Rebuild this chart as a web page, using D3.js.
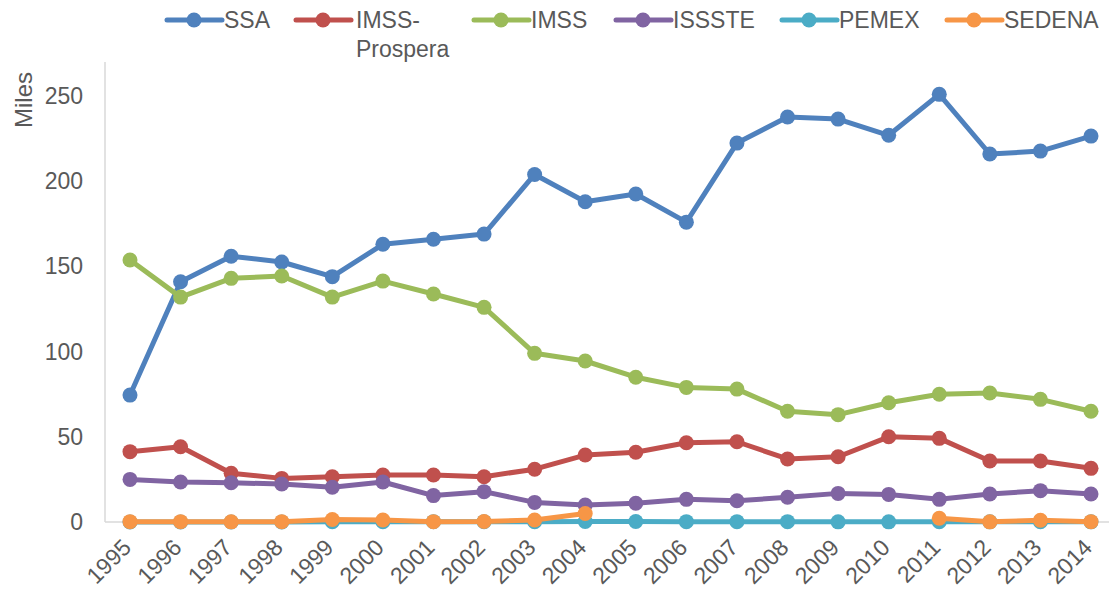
<!DOCTYPE html>
<html>
<head>
<meta charset="utf-8">
<script src="https://cdn.jsdelivr.net/npm/d3@7"></script>
<style>
  body { margin: 0; background: #fff; }
  text { font-family: "Liberation Sans", Arial, sans-serif; fill: #595959; }
</style>
</head>
<body>
<div class="canvas"></div>
<script>
// data
const years = [1995, 1996, 1997, 1998, 1999, 2000, 2001, 2002, 2003, 2004,
               2005, 2006, 2007, 2008, 2009, 2010, 2011, 2012, 2013, 2014];
const ssa = [74.5, 141, 156, 152.6, 144, 163, 166, 169, 204, 188,
             192.5, 176, 222.4, 237.7, 236.5, 227, 251, 216, 217.7, 226.5];
const imssProspera = [41.3, 44.2, 28.6, 25.6, 26.6, 27.6, 27.6, 26.6, 31, 39.3,
                      40.9, 46.5, 47.1, 37, 38.3, 50, 49.1, 35.8, 35.8, 31.5];
const imss = [153.8, 132, 143, 144.4, 132, 141.4, 133.8, 126, 99, 94.5,
              85, 79, 78, 65, 63, 70, 75, 75.7, 72, 65];
const issste = [25, 23.5, 23, 22.3, 20.4, 23.5, 15.5, 17.8, 11.5, 10,
                11, 13.3, 12.5, 14.5, 16.8, 16.2, 13.3, 16.4, 18.4, 16.4];
const pemex = [0, 0, 0, 0, 0.2, 0.2, 0.2, 0.2, 0.2, 0.3,
               0.3, 0.2, 0.2, 0.2, 0.1, 0.1, 0.2, 0.1, 0.2, 0.1];
const sedena = [0.2, 0.2, 0.1, 0.2, 1.5, 1.2, 0.2, 0.3, 1.2, 5,
                null, null, null, null, null, null, 2.2, 0.1, 1, 0.2];
const yTicks = [0, 50, 100, 150, 200, 250];

const seriesNames = ['SSA', 'IMSS-Prospera', 'IMSS', 'ISSSTE', 'PEMEX', 'SEDENA'];
const seriesValues = [ssa, imssProspera, imss, issste, pemex, sedena];
const colors = ['#4F81BD', '#C0504D', '#9BBB59', '#8064A2', '#4BACC6', '#F79646'];

const series = seriesNames.map((name, i) => ({
    name,
    color: colors[i],
    values: years.map((yr, j) => ({ year: yr, value: seriesValues[i][j] }))
}));

const svg = d3.select('.canvas')
    .append('svg')
    .attr('width', 1109)
    .attr('height', 590);

// scales
const x = d3.scalePoint()
    .domain(years)
    .range([130, 1091]);

const y = d3.scaleLinear()
    .domain([0, 270])
    .range([522, 62]);

// axis lines
svg.append('line')
    .attr('x1', 105).attr('x2', 105)
    .attr('y1', 62).attr('y2', 522)
    .attr('stroke', '#d9d9d9').attr('stroke-width', 1.5);

svg.append('line')
    .attr('x1', 105).attr('x2', 1109)
    .attr('y1', 522).attr('y2', 522)
    .attr('stroke', '#d9d9d9').attr('stroke-width', 1.5);

// y axis labels
const yAxis = d3.axisLeft(y)
    .tickValues(yTicks)
    .tickSize(0)
    .tickPadding(22);

svg.append('g')
    .attr('transform', 'translate(105,0)')
    .call(yAxis)
    .call(g => g.select('.domain').remove())
    .selectAll('text')
    .style('font-size', '23px')
    .attr('fill', '#595959');

// x axis labels - rotated, end of text sits just below each tick
const xAxis = d3.axisBottom(x).tickSize(0).tickPadding(0);

svg.append('g')
    .attr('transform', 'translate(0,522)')
    .call(xAxis)
    .call(g => g.select('.domain').remove())
    .selectAll('text')
    .style('font-size', '23px')
    .attr('fill', '#595959')
    .attr('text-anchor', 'end')
    .attr('y', 0)
    .attr('dy', 0)
    .attr('transform', 'translate(2,27) rotate(-45)');

// y axis title
svg.append('text')
    .attr('transform', 'translate(32,72) rotate(-90)')
    .attr('text-anchor', 'end')
    .style('font-size', '24px')
    .text('Miles');

// lines
const line = d3.line()
    .defined(d => d.value !== null)
    .x(d => x(d.year))
    .y(d => y(d.value));

const groups = svg.selectAll('.series')
    .data(series)
    .enter()
    .append('g')
    .attr('class', 'series');

groups.append('path')
    .attr('d', d => line(d.values))
    .attr('fill', 'none')
    .attr('stroke', d => d.color)
    .attr('stroke-width', 5)
    .attr('stroke-linejoin', 'round');

groups.selectAll('circle')
    .data(d => d.values.filter(v => v.value !== null).map(v => ({ ...v, color: d.color })))
    .enter()
    .append('circle')
    .attr('cx', d => x(d.year))
    .attr('cy', d => y(d.value))
    .attr('r', 7.5)
    .attr('fill', d => d.color);

// legend
const legendX = [167, 296, 474, 616, 782, 947];
const legend = svg.selectAll('.legend')
    .data(series)
    .enter()
    .append('g')
    .attr('class', 'legend')
    .attr('transform', (d, i) => `translate(${legendX[i]},20)`);

legend.append('line')
    .attr('x1', 0).attr('x2', 55)
    .attr('stroke', d => d.color)
    .attr('stroke-width', 5)
    .attr('stroke-linecap', 'round');

legend.append('circle')
    .attr('cx', 27)
    .attr('r', 7.5)
    .attr('fill', d => d.color);

legend.append('text')
    .attr('x', 57)
    .attr('dy', '0.35em')
    .style('font-size', '23px')
    .each(function(d) {
        const t = d3.select(this);
        if (d.name === 'IMSS-Prospera') {
            t.append('tspan').attr('x', 60).text('IMSS-');
            t.append('tspan').attr('x', 60).attr('dy', '1.25em').text('Prospera');
        } else {
            t.text(d.name);
        }
    });
</script>
</body>
</html>
